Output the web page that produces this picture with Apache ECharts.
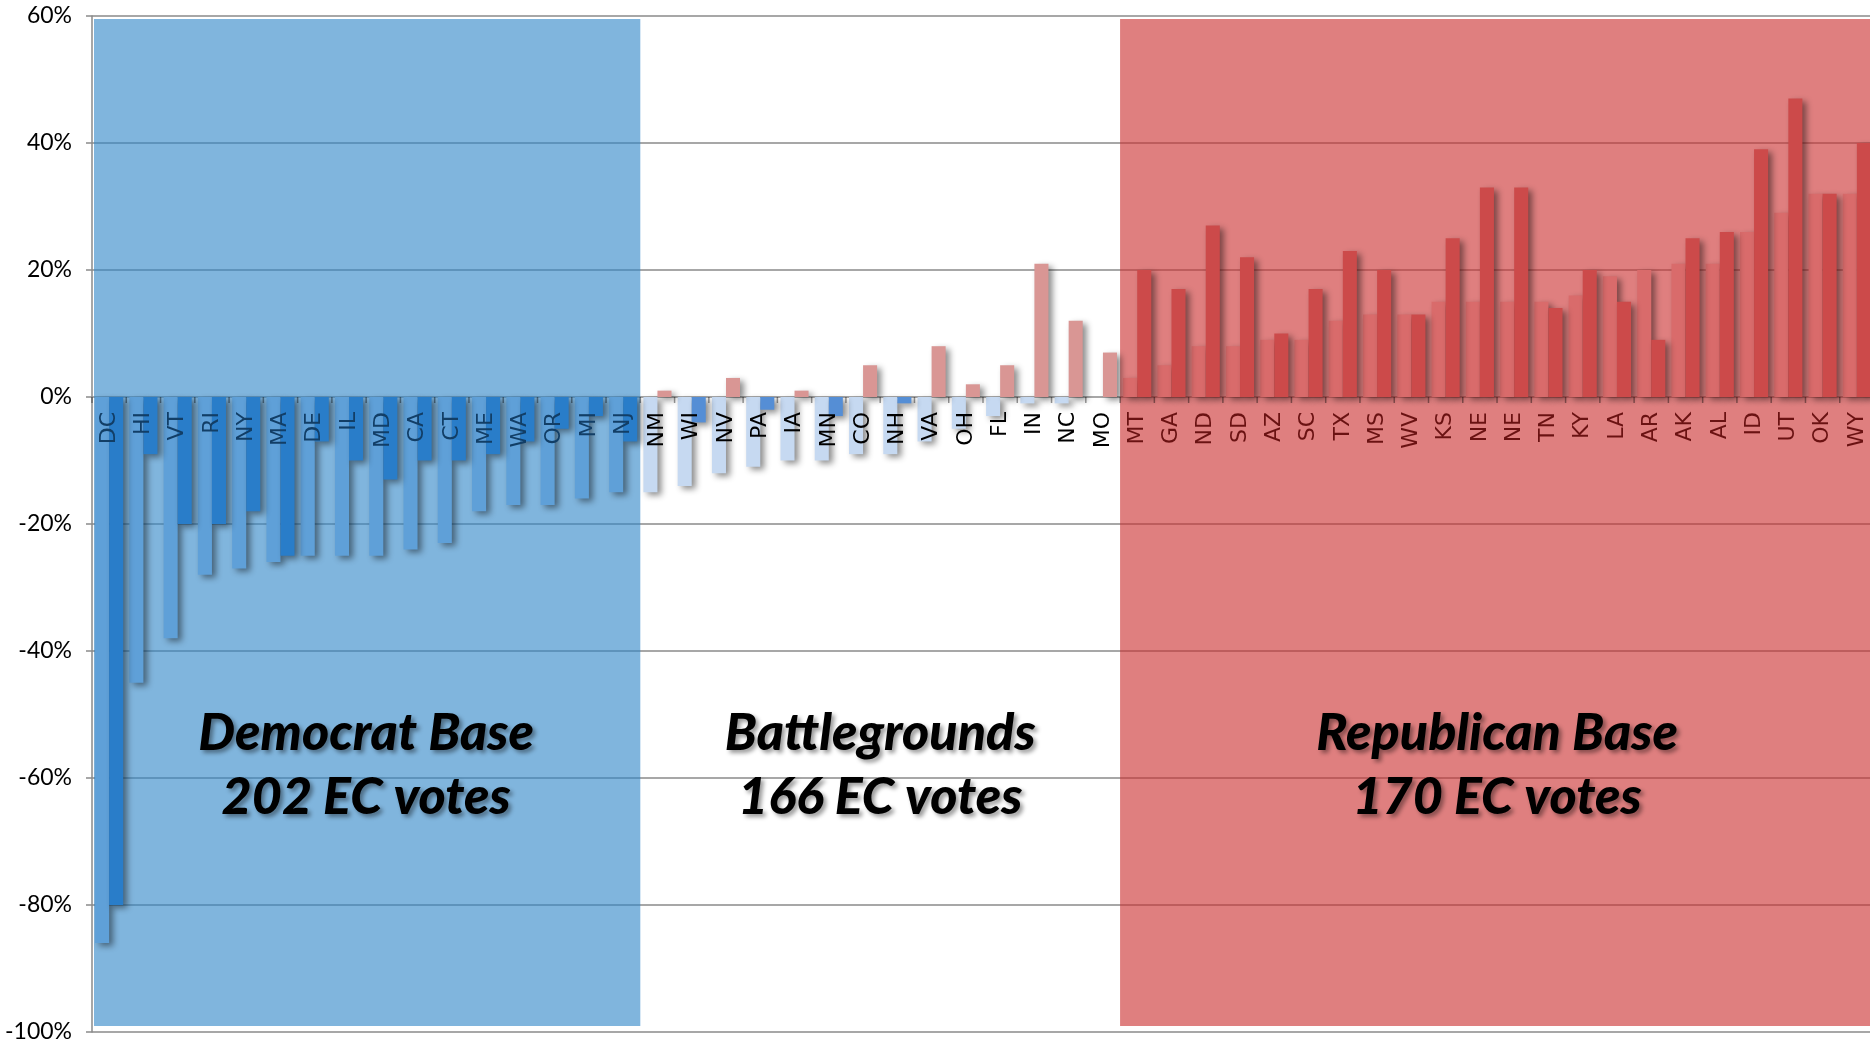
<!DOCTYPE html>
<html>
<head>
<meta charset="utf-8">
<script src="https://cdn.jsdelivr.net/npm/echarts@6/dist/echarts.min.js"></script>
<style>
html,body{margin:0;padding:0;background:#fff;}
#chart{width:1870px;height:1042px;}
</style>
</head>
<body>
<div id="chart"></div>
<script>
// ---- data ----
const states = ['DC','HI','VT','RI','NY','MA','DE','IL','MD','CA','CT','ME','WA','OR','MI','NJ',
  'NM','WI','NV','PA','IA','MN','CO','NH','VA','OH','FL','IN','NC','MO',
  'MT','GA','ND','SD','AZ','SC','TX','MS','WV','KS','NE','NE','TN','KY','LA','AR','AK','AL','ID','UT','OK','WY'];
// lighter (left) bar of each pair, margin in %
const prevMargin = [-86,-45,-38,-28,-27,-26,-25,-25,-25,-24,-23,-18,-17,-17,-16,-15,
  -15,-14,-12,-11,-10,-10,-9,-9,-7,-5,-3,-1,-1,0,
  3,5,8,8,9,9,12,13,13,15,15,15,15,16,19,20,21,21,26,29,32,32];
// darker (right) bar of each pair, margin in %
const currMargin = [-80,-9,-20,-20,-18,-25,-7,-10,-13,-10,-10,-9,-7,-5,-3,-7,
  1,-4,3,-2,1,-3,5,-1,8,2,5,21,12,7,
  20,17,27,22,10,17,23,20,13,25,33,33,14,20,15,9,25,26,39,47,32,40];
const groupSizes = [16, 14, 22];
const groupTitles = ['Democrat Base', 'Battlegrounds', 'Republican Base'];
const groupVotes = ['202 EC votes', '166 EC votes', '170 EC votes'];
const yMin = -100, yMax = 60, yStep = 20;
const textLevel = -58;

// ---- styling helpers ----
const groupStarts = [];
groupSizes.reduce((acc, n) => { groupStarts.push(acc); return acc + n; }, 0);
const demEnd = groupSizes[0];
const bgEnd = groupSizes[0] + groupSizes[1];
function groupOf(i){ return i < demEnd ? 0 : (i < bgEnd ? 1 : 2); }
function prevColor(v, i){
  const g = groupOf(i);
  if (g === 0) return '#5fa0d8';
  if (g === 1) return v < 0 ? '#c6d9f1' : '#d99694';
  return '#d96b6b';
}
function currColor(v, i){
  const g = groupOf(i);
  if (g === 0) return '#297dc9';
  if (g === 1) return v < 0 ? '#558ed5' : '#d99694';
  return '#cc4a4a';
}
const labelColors = ['#123e66', '#000000', '#6a1212'];
const barShadow = {shadowBlur: 6, shadowColor: 'rgba(0,0,0,0.45)', shadowOffsetX: 4, shadowOffsetY: 3};
const prevData = prevMargin.map((v, i) => ({value: v, itemStyle: Object.assign({color: prevColor(v, i)}, barShadow)}));
const currData = currMargin.map((v, i) => ({value: v, itemStyle: Object.assign({color: currColor(v, i)}, barShadow)}));

const boxColors = ['rgba(50,135,200,0.62)', null, 'rgba(203,48,48,0.62)'];
const groupItems = groupSizes.map((n, g) => [g, 0]);
const labelItems = states.map((s, i) => [i, 0]);

function groupSpan(api, g) {
  const s = groupStarts[g], e = s + groupSizes[g] - 1;
  const band = api.size([1, 0])[0];
  const left = api.coord([s, 0])[0] - band / 2;
  const right = api.coord([e, 0])[0] + band / 2;
  return [left, right];
}

function renderBox(params, api) {
  const g = api.value(0);
  if (!boxColors[g]) return null;
  const span = groupSpan(api, g);
  const top = api.coord([groupStarts[g], yMax])[1];
  const bottom = api.coord([groupStarts[g], yMin])[1];
  const x0 = span[0] + (g === 0 ? 2 : 0);
  return {
    type: 'rect',
    shape: {x: x0, y: top + 3, width: span[1] - x0, height: bottom - top - 9},
    style: {fill: boxColors[g]}
  };
}

function renderText(params, api) {
  const g = api.value(0);
  const span = groupSpan(api, g);
  const y = api.coord([groupStarts[g], textLevel])[1];
  return {
    type: 'text',
    x: (span[0] + span[1]) / 2,
    y: y,
    style: {
      text: groupTitles[g] + '\n' + groupVotes[g],
      fontFamily: 'Lato',
      fontStyle: 'italic',
      fontWeight: 900,
      fontSize: 52,
      lineHeight: 64,
      align: 'center',
      verticalAlign: 'middle',
      fill: '#000',
      textShadowColor: 'rgba(0,0,0,0.4)',
      textShadowBlur: 4,
      textShadowOffsetX: 3,
      textShadowOffsetY: 3
    }
  };
}

// category labels and ticks placed on the zero line
function renderAxisLabel(params, api) {
  const i = api.value(0);
  const p = api.coord([i, 0]);
  const band = api.size([1, 0])[0];
  const children = [
    {
      type: 'line',
      shape: {x1: p[0] - band / 2, y1: p[1], x2: p[0] - band / 2, y2: p[1] + 6},
      style: {stroke: 'rgba(0,0,0,0.4)', lineWidth: 1.5}
    },
    {
      type: 'text',
      x: p[0], y: p[1] + 15,
      rotation: Math.PI / 2,
      style: {
        text: states[i],
        fontFamily: 'DejaVu Sans',
        fontSize: 22,
        align: 'right',
        verticalAlign: 'middle',
        fill: labelColors[groupOf(i)]
      }
    }
  ];
  if (i === states.length - 1) {
    children.push({
      type: 'line',
      shape: {x1: p[0] + band / 2, y1: p[1], x2: p[0] + band / 2, y2: p[1] + 6},
      style: {stroke: 'rgba(0,0,0,0.4)', lineWidth: 1.5}
    });
  }
  return {type: 'group', children: children};
}

const chart = echarts.init(document.getElementById('chart'));
chart.setOption({
  animation: false,
  backgroundColor: '#ffffff',
  grid: {left: 92, right: -4, top: 16, bottom: 10, containLabel: false, outerBoundsMode: 'none'},
  xAxis: {
    type: 'category',
    data: states,
    axisLine: {show: false},
    axisTick: {show: false},
    axisLabel: {show: false},
    splitLine: {show: false}
  },
  yAxis: {
    type: 'value',
    min: yMin, max: yMax, interval: yStep,
    z: 0,
    axisLine: {show: true, onZero: false, lineStyle: {color: '#8a8a8a', width: 1.5}},
    axisTick: {show: true, length: 6, lineStyle: {color: '#8a8a8a', width: 1.5}},
    axisLabel: {formatter: '{value}%', fontFamily: 'Lato', fontSize: 23, color: '#000', margin: 20},
    splitLine: {show: true, lineStyle: {color: '#8a8a8a', width: 1.6}}
  },
  series: [
    {
      type: 'custom',
      z: 1,
      silent: true,
      renderItem: renderBox,
      data: groupItems
    },
    {
      type: 'bar',
      name: 'prev',
      data: prevData,
      z: 2,
      barGap: '0%',
      barCategoryGap: '18%'
    },
    {
      type: 'bar',
      name: 'curr',
      data: currData,
      z: 2,
      barGap: '0%',
      barCategoryGap: '18%'
    },
    {
      type: 'custom',
      z: 3,
      silent: true,
      renderItem: renderAxisLabel,
      data: labelItems
    },
    {
      type: 'custom',
      z: 10,
      silent: true,
      renderItem: renderText,
      data: groupItems
    }
  ]
});
</script>
</body>
</html>
